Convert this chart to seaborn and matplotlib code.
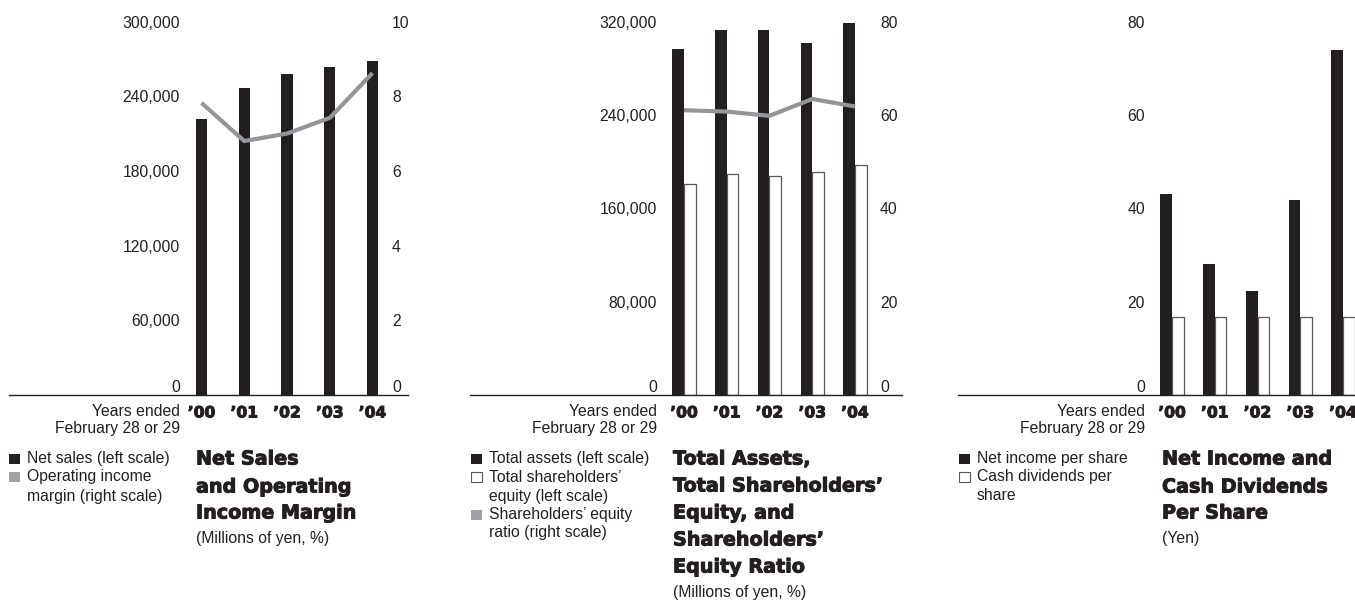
import numpy as np
import pandas as pd
import matplotlib
matplotlib.use("Agg")
import matplotlib.pyplot as plt
from matplotlib.patches import Rectangle
from matplotlib.ticker import FuncFormatter
import matplotlib.patheffects as pe
import seaborn as sns

# ---- data -------------------------------------------------------------
years = ["\u201900", "\u201901", "\u201902", "\u201903", "\u201904"]

net_sales = [221400, 246300, 257500, 263100, 267900]          # millions of yen
operating_margin = [7.82, 6.80, 7.00, 7.42, 8.62]             # %

total_assets = [296600, 312300, 312300, 302000, 318300]       # millions of yen
shareholders_equity = [180800, 189400, 187400, 191100, 197400]
equity_ratio = [61.0, 60.7, 59.8, 63.4, 61.8]                 # %

net_income_per_share = [43.0, 28.0, 22.2, 41.7, 74.0]         # yen
cash_dividends_per_share = [16.6, 16.6, 16.6, 16.6, 16.6]     # yen

# ---- style ------------------------------------------------------------
sns.set_theme(style="white")
plt.rcParams["font.family"] = ["Liberation Sans", "DejaVu Sans"]

INK = "#231f20"
GRAY_LINE = "#939598"
GRAY_KEY = "#a0a2a5"
BODY = 11.3
HEAVY = dict(family=["DejaVu Sans"], weight="bold")
THICK = [pe.withStroke(linewidth=0.7, foreground=INK)]

W, H = 1355, 600
fig = plt.figure(figsize=(W / 100, H / 100), dpi=100)
fig.patch.set_facecolor("white")

BASE_Y = 395.0
PLOT_H = 373.5


def fx(x):
    return x / W


def fy(y):
    return 1 - y / H


def make_axes(left, right):
    ax = fig.add_axes([fx(left), fy(BASE_Y), (right - left) / W, PLOT_H / H])
    ax.set_facecolor("none")
    for side in ("top", "left", "right"):
        ax.spines[side].set_visible(False)
    ax.spines["bottom"].set_color(INK)
    ax.spines["bottom"].set_linewidth(1.0)
    return ax


def style_left(ax, ticks, pad_px, fmt):
    ax.set_yticks(ticks)
    ax.yaxis.set_major_formatter(FuncFormatter(fmt))
    ax.tick_params(axis="y", length=0, pad=-pad_px * 0.72,
                   labelsize=BODY, labelcolor=INK)
    ax.get_yticklabels()[0].set_verticalalignment("bottom")
    ax.set_ylabel("")


def style_right(ax, ticks, pad_px):
    for side in ax.spines:
        ax.spines[side].set_visible(False)
    ax.set_yticks(ticks)
    ax.yaxis.set_major_formatter(FuncFormatter(lambda v, p: f"{v:.0f}"))
    ax.tick_params(axis="y", length=0, pad=-pad_px * 0.72,
                   labelsize=BODY, labelcolor=INK)
    ax.get_yticklabels()[0].set_verticalalignment("bottom")
    ax.set_ylabel("")
    ax.set_xlabel("")


def style_x(ax, xlim):
    ax.set_xticks(range(len(years)))
    ax.set_xticklabels(years, fontsize=11.2, color=INK, **HEAVY)
    for lbl in ax.get_xticklabels():
        lbl.set_path_effects(THICK)
    ax.tick_params(axis="x", length=0, pad=7.5)
    ax.set_xlabel("")
    ax.set_xlim(*xlim)


def years_note(x_right):
    fig.text(fx(x_right), fy(411), "Years ended", ha="right", va="center",
             fontsize=BODY, color=INK)
    fig.text(fx(x_right), fy(429), "February 28 or 29", ha="right",
             va="center", fontsize=BODY, color=INK)


def key(x_sq, x_txt, rows, face, edge=None):
    y0 = rows[0][0]
    s = 10.7
    fig.add_artist(Rectangle((fx(x_sq), fy(y0 + s / 2)), s / W, s / H,
                             transform=fig.transFigure, facecolor=face,
                             edgecolor=edge if edge else face,
                             linewidth=0.8 if edge else 0))
    for y, line in rows:
        fig.text(fx(x_txt), fy(y), line, ha="left", va="center",
                 fontsize=BODY, color=INK)


def title(x, rows, sub_y, sub):
    for y, line in rows:
        fig.text(fx(x), fy(y), line, ha="left", va="center",
                 fontsize=13.8, color=INK, path_effects=THICK, **HEAVY)
    fig.text(fx(x), fy(sub_y), sub, ha="left", va="center",
             fontsize=BODY, color=INK)


comma = lambda v, p: f"{v:,.0f}"
plain = lambda v, p: f"{v:.0f}"

# ---- panel 1: net sales and operating income margin --------------------
ax1 = make_axes(9, 408)
df1 = pd.DataFrame({"year": years, "net_sales": net_sales})
sns.barplot(data=df1, x="year", y="net_sales", color=INK, saturation=1,
            width=0.26, linewidth=0, ax=ax1)
ax1.set_ylim(0, 300000)
style_left(ax1, np.arange(0, 300001, 60000), 171, comma)

ax1r = ax1.twinx()
sns.lineplot(x=np.arange(len(years)), y=operating_margin, ax=ax1r,
             color=GRAY_LINE, linewidth=3.0, solid_capstyle="butt")
ax1r.set_ylim(0, 10)
style_right(ax1r, np.arange(0, 11, 2), 16)
style_x(ax1, (-4.503, 4.83))

years_note(180)
key(9.3, 27, [(459, "Net sales (left scale)")], INK)
key(9.3, 27, [(477, "Operating income"), (496, "margin (right scale)")],
    GRAY_KEY)
title(196, [(459, "Net Sales"), (487, "and Operating"),
            (513, "Income Margin")], 539, "(Millions of yen, %)")

# ---- panel 2: total assets, equity and equity ratio --------------------
ax2 = make_axes(470, 902)
df2 = pd.DataFrame({
    "year": years * 2,
    "value": total_assets + shareholders_equity,
    "series": ["Total assets"] * 5 + ["Total shareholders\u2019 equity"] * 5,
})
sns.barplot(data=df2, x="year", y="value", hue="series",
            palette=[INK, "white"], saturation=1, width=0.54,
            linewidth=0, legend=False, ax=ax2)
for bar in ax2.containers[1]:
    bar.set_edgecolor("#58595b")
    bar.set_linewidth(0.9)
ax2.set_ylim(0, 320000)
style_left(ax2, np.arange(0, 320001, 80000), 187, comma)

ax2r = ax2.twinx()
sns.lineplot(x=np.arange(len(years)), y=equity_ratio, ax=ax2r,
             color=GRAY_LINE, linewidth=3.0, solid_capstyle="butt")
ax2r.set_ylim(0, 80)
style_right(ax2r, np.arange(0, 81, 20), 22)
style_x(ax2, (-5.006, 5.1))

years_note(657)
key(471, 489, [(459, "Total assets (left scale)")], INK)
key(471, 489, [(477, "Total shareholders\u2019"), (496, "equity (left scale)")],
    "white", "#58595b")
key(471, 489, [(515, "Shareholders\u2019 equity"), (533, "ratio (right scale)")],
    GRAY_KEY)
title(673, [(459, "Total Assets,"), (486, "Total Shareholders\u2019"),
            (513, "Equity, and"), (540, "Shareholders\u2019"),
            (567, "Equity Ratio")], 592, "(Millions of yen, %)")

# ---- panel 3: net income and cash dividends per share ------------------
ax3 = make_axes(958, 1355)
df3 = pd.DataFrame({
    "year": years * 2,
    "value": net_income_per_share + cash_dividends_per_share,
    "series": ["Net income per share"] * 5 + ["Cash dividends per share"] * 5,
})
sns.barplot(data=df3, x="year", y="value", hue="series",
            palette=[INK, "white"], saturation=1, width=0.54,
            linewidth=0, legend=False, ax=ax3)
for bar in ax3.containers[1]:
    bar.set_edgecolor("#58595b")
    bar.set_linewidth(0.9)
ax3.set_ylim(0, 80)
style_left(ax3, np.arange(0, 81, 20), 187, plain)
style_x(ax3, (-5.006, 4.28))

years_note(1145)
key(959, 977, [(459, "Net income per share")], INK)
key(959, 977, [(477, "Cash dividends per"), (496, "share")],
    "white", "#58595b")
title(1162, [(459, "Net Income and"), (487, "Cash Dividends"),
             (513, "Per Share")], 539, "(Yen)")

fig.savefig("out.png", dpi=100, facecolor="white")
